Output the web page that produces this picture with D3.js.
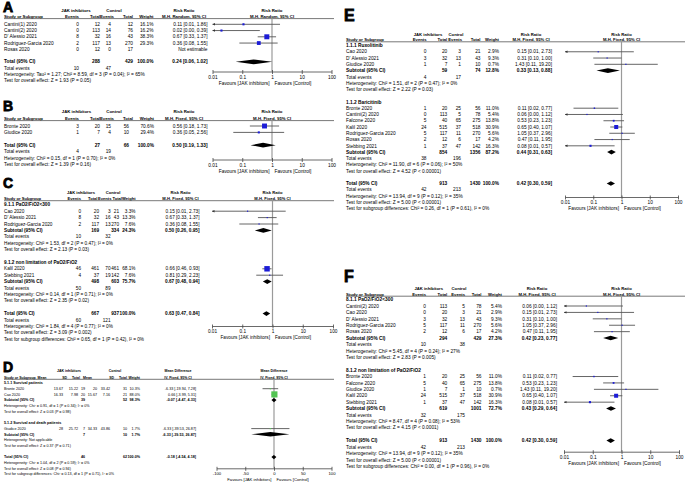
<!DOCTYPE html>
<html><head><meta charset="utf-8">
<script src="https://cdn.jsdelivr.net/npm/d3@7"></script>
<style>
body{margin:0;background:#fff}
svg{display:block}
text{font-family:"Liberation Sans",Arial,sans-serif}
</style>
</head><body>
<svg id="c" width="685" height="485"></svg>
<script>
// ================= DATA =================
// Risk-ratio study rows: [study, JAK events, JAK total, control events, control total, weight %, RR, low, high]
const studiesA = [
  ["Cantini(1) 2020", 0, 12, 4, 12, 16.1, 0.11, 0.01, 1.86],
  ["Cantini(2) 2020", 0, 113, 14, 76, 16.2, 0.02, 0.00, 0.39],
  ["D' Alessio 2021", 8, 32, 16, 43, 38.3, 0.67, 0.33, 1.37],
  ["Rodriguez-Garcia 2020", 2, 117, 13, 270, 29.3, 0.36, 0.08, 1.55],
  ["Rosas 2020", 0, 12, 0, 17, null, null, null, null]
];
const totalA = [288, 429, 100.0, 0.24, 0.06, 1.02];
const eventsA = [10, 47];
const notesA = ["Heterogeneity: Tau² = 1.27; Chi² = 8.59, df = 3 (P = 0.04); I² = 65%",
                "Test for overall effect: Z = 1.93 (P = 0.05)"];

const studiesB = [
  ["Bronte 2020", 3, 20, 15, 56, 70.6, 0.56, 0.18, 1.73],
  ["Giudice 2020", 1, 7, 4, 10, 29.4, 0.36, 0.05, 2.56]
];
const totalB = [27, 66, 100.0, 0.50, 0.19, 1.33];
const eventsB = [4, 19];
const notesB = ["Heterogeneity: Chi² = 0.15, df = 1 (P = 0.70); I² = 0%",
                "Test for overall effect: Z = 1.39 (P = 0.16)"];

const titlesC = ["9.1.1 PaO2/FiO2<300", "9.1.2 non limitation of PaO2/FiO2"];
const studiesC1 = [
  ["Cao 2020", 0, 20, 3, 21, 3.3, 0.15, 0.01, 2.73],
  ["D' Alessio 2021", 8, 32, 16, 43, 13.3, 0.67, 0.33, 1.37],
  ["Rodriguez-Garcia 2020", 2, 117, 13, 270, 7.6, 0.36, 0.08, 1.55]
];
const studiesC2 = [
  ["Kalil 2020", 46, 461, 70, 461, 68.1, 0.66, 0.46, 0.93],
  ["Stebbing 2021", 4, 37, 19, 142, 7.6, 0.81, 0.29, 2.23]
];
const subtotalsC = [[169, 334, 24.3, 0.50, 0.26, 0.95], [498, 603, 75.7, 0.67, 0.48, 0.94]];
const subEventsC = [[10, 32], [50, 89]];
const subNotesC = [
  ["Heterogeneity: Chi² = 1.53, df = 2 (P = 0.47); I² = 0%", "Test for overall effect: Z = 2.13 (P = 0.03)"],
  ["Heterogeneity: Chi² = 0.14, df = 1 (P = 0.71); I² = 0%", "Test for overall effect: Z = 2.35 (P = 0.02)"]
];
const totalC = [667, 937, 100.0, 0.63, 0.47, 0.84];
const eventsC = [60, 121];
const notesC = ["Heterogeneity: Chi² = 1.84, df = 4 (P = 0.77); I² = 0%",
                "Test for overall effect: Z = 3.09 (P = 0.002)",
                "Test for subgroup differences: Chi² = 0.65, df = 1 (P = 0.42), I² = 0%"];

// Mean-difference rows: [study, JAK mean, SD, total, control mean, SD, total, weight %, MD, low, high]
const titlesD = ["5.1.1 Survival patients", "5.1.2 Survival and death patients"];
const studiesD1 = [
  ["Bronte 2020", 13.67, 15.22, 19, 20, 33.42, 31, 10.3, -6.33, -19.94, 7.28],
  ["Cao 2020", 16.33, 7.98, 20, 15.67, 7.16, 21, 88.0, 0.66, -3.99, 5.31]
];
const studiesD2 = [
  ["Giudice 2020", 28, 25.72, 7, 34.33, 43.86, 10, 1.7, -6.33, -39.53, 26.87]
];
const subtotalsD = [[39, 52, 98.3, -0.07, -4.47, 4.33], [7, 10, 1.7, -6.33, -39.53, 26.87]];
const subNotesD = [
  ["Heterogeneity: Chi² = 0.91, df = 1 (P = 0.34); I² = 0%", "Test for overall effect: Z = 0.03 (P = 0.98)"],
  ["Heterogeneity: Not applicable", "Test for overall effect: Z = 0.37 (P = 0.71)"]
];
const totalD = [46, 62, 100.0, -0.18, -4.54, 4.18];
const notesD = ["Heterogeneity: Chi² = 1.04, df = 2 (P = 0.59); I² = 0%",
                "Test for overall effect: Z = 0.08 (P = 0.94)",
                "Test for subgroup differences: Chi² = 0.13, df = 1 (P = 0.71), I² = 0%"];

const titlesE = ["1.1.1 Ruxolitinib", "1.1.2 Baricitinib"];
const studiesE1 = [
  ["Cao 2020", 0, 20, 3, 21, 2.9, 0.15, 0.01, 2.73],
  ["D' Alessio 2021", 3, 32, 13, 43, 9.3, 0.31, 0.10, 1.00],
  ["Giudice 2020", 1, 7, 1, 10, 0.7, 1.43, 0.11, 19.20]
];
const studiesE2 = [
  ["Bronte 2020", 1, 20, 25, 56, 11.0, 0.11, 0.02, 0.77],
  ["Cantini(2) 2020", 0, 113, 5, 78, 5.4, 0.06, 0.00, 1.12],
  ["Falcone 2020", 5, 40, 65, 275, 13.8, 0.53, 0.23, 1.23],
  ["Kalil 2020", 24, 515, 37, 518, 30.9, 0.65, 0.40, 1.07],
  ["Rodriguez-Garcia 2020", 5, 117, 11, 270, 5.6, 1.05, 0.37, 2.96],
  ["Rosas 2020", 2, 12, 6, 17, 4.2, 0.47, 0.11, 1.95],
  ["Stebbing 2021", 1, 37, 47, 142, 16.3, 0.08, 0.01, 0.57]
];
const subtotalsE = [[59, 74, 12.8, 0.33, 0.13, 0.88], [854, 1356, 87.2, 0.44, 0.31, 0.63]];
const subEventsE = [[4, 17], [38, 196]];
const subNotesE = [
  ["Heterogeneity: Chi² = 1.51, df = 2 (P = 0.47); I² = 0%", "Test for overall effect: Z = 2.22 (P = 0.03)"],
  ["Heterogeneity: Chi² = 11.90, df = 6 (P = 0.06); I² = 50%", "Test for overall effect: Z = 4.52 (P < 0.00001)"]
];
const totalE = [913, 1430, 100.0, 0.42, 0.30, 0.59];
const eventsE = [42, 213];
const notesE = ["Heterogeneity: Chi² = 13.94, df = 9 (P = 0.12); I² = 35%",
                "Test for overall effect: Z = 5.00 (P < 0.00001)",
                "Test for subgroup differences: Chi² = 0.26, df = 1 (P = 0.61), I² = 0%"];

const titlesF = ["8.1.1 PaO2/FiO2<300", "8.1.2 non limitation of PaO2/FiO2"];
const studiesF1 = [
  ["Cantini(2) 2020", 0, 113, 5, 78, 5.4, 0.06, 0.00, 1.12],
  ["Cao 2020", 0, 20, 3, 21, 2.9, 0.15, 0.01, 2.73],
  ["D' Alessio 2021", 3, 32, 13, 43, 9.3, 0.31, 0.10, 1.00],
  ["Rodriguez-Garcia 2020", 5, 117, 11, 270, 5.6, 1.05, 0.37, 2.96],
  ["Rosas 2020", 2, 12, 6, 17, 4.2, 0.47, 0.11, 1.95]
];
const studiesF2 = [
  ["Bronte 2020", 1, 20, 25, 56, 11.0, 0.11, 0.02, 0.77],
  ["Falcone 2020", 5, 40, 65, 275, 13.8, 0.53, 0.23, 1.23],
  ["Giudice 2020", 1, 7, 1, 10, 0.7, 1.43, 0.11, 19.20],
  ["Kalil 2020", 24, 515, 37, 518, 30.9, 0.65, 0.40, 1.07],
  ["Stebbing 2021", 1, 37, 47, 142, 16.3, 0.08, 0.01, 0.57]
];
const subtotalsF = [[294, 429, 27.3, 0.42, 0.23, 0.77], [619, 1001, 72.7, 0.43, 0.29, 0.64]];
const subEventsF = [[10, 38], [32, 175]];
const subNotesF = [
  ["Heterogeneity: Chi² = 5.45, df = 4 (P = 0.24); I² = 27%", "Test for overall effect: Z = 2.83 (P = 0.005)"],
  ["Heterogeneity: Chi² = 8.47, df = 4 (P = 0.08); I² = 53%", "Test for overall effect: Z = 4.15 (P < 0.0001)"]
];
const totalF = [913, 1430, 100.0, 0.42, 0.30, 0.59];
const eventsF = [42, 213];
const notesF = ["Heterogeneity: Chi² = 13.94, df = 9 (P = 0.12); I² = 35%",
                "Test for overall effect: Z = 5.00 (P < 0.00001)",
                "Test for subgroup differences: Chi² = 0.00, df = 1 (P = 0.96), I² = 0%"];

const rrTicks = [0.01, 0.1, 1, 10, 100];
const mdTicks = [-100, -50, 0, 50, 100];
const rrHeaders = ["Events", "Total", "Events", "Total"];
const mdHeaders = ["Mean", "SD", "Total", "Mean", "SD", "Total"];

// ================= DRAWING =================
const svg = d3.select("#c");
const f2 = v => v.toFixed(2);
const ciText = (e, l, h) => `${f2(e)} [${f2(l)}, ${f2(h)}]`;
const wText = w => w.toFixed(1) + "%";
const SQ_BLUE = "#1c1cd6", SQ_GREEN = "#52c452";

function makeGroups(titles, studyLists, subs, subEvents, subNotes) {
  return titles.map((t, i) => ({title: t, studies: studyLists[i], sub: subs[i],
    events: subEvents ? subEvents[i] : null, notes: subNotes[i]}));
}

function drawPanel(cfg, spec) {
  const g = svg.append("g");
  const fs = cfg.fs;
  const T = (x, y, s, anchor, bold, size) => g.append("text")
    .attr("x", x).attr("y", y).attr("dy", "0.35em")
    .attr("text-anchor", anchor || "start").attr("font-size", size || fs)
    .attr("font-weight", bold ? "bold" : "normal").attr("fill", "#000").text(s);

  g.append("text").attr("x", cfg.labelX).attr("y", cfg.labelY)
    .attr("font-size", cfg.labelFs).attr("font-weight", "bold")
    .attr("stroke", "#000").attr("stroke-width", 0.8).text(cfg.label);

  const isMD = spec.type === "md";
  const dom = isMD ? [-100, 100] : [0.01, 100];
  const x = isMD ? d3.scaleLinear().domain(dom).range(cfg.plot)
                 : d3.scaleLog().domain(dom).range(cfg.plot);
  const nullV = isMD ? 0 : 1;
  const plotMid = (cfg.plot[0] + cfg.plot[1]) / 2;
  const numCols = isMD ? ["m1", "sd1", "n1", "m2", "sd2", "n2"] : ["ev1", "n1", "ev2", "n2"];
  const heads = isMD ? mdHeaders : rrHeaders;
  const measure = isMD ? "Mean Difference" : "Risk Ratio";
  const hc = Object.assign({}, cfg.cols, cfg.hcols || {});
  const hfs = cfg.hfs || fs;

  // headers
  T(cfg.grp1, cfg.h1, "JAK inhibitors", "middle", true, hfs);
  T(cfg.grp2, cfg.h1, "Control", "middle", true, hfs);
  T(cfg.ciHead, cfg.h1, measure, "middle", true, hfs);
  T(plotMid, cfg.h1, measure, "middle", true, hfs);
  T(cfg.study, cfg.h2, "Study or Subgroup", "start", true, hfs);
  numCols.forEach((c, j) => T(hc[c], cfg.h2, heads[j], "end", true, hfs));
  T(hc.w, cfg.h2, "Weight", "end", true, hfs);
  T(cfg.ciHead, cfg.h2, spec.method, "middle", true, hfs);
  T(plotMid, cfg.h2, spec.method, "middle", true, hfs);
  g.append("line").attr("x1", cfg.study).attr("x2", cfg.lineRight)
    .attr("y1", cfg.ul).attr("y2", cfg.ul).attr("stroke", "#555").attr("stroke-width", 0.8);

  // rows
  const rows = [];
  if (spec.groups) {
    spec.groups.forEach(gr => {
      rows.push({k: "title", t: gr.title});
      gr.studies.forEach(s => rows.push({k: "study", d: s}));
      rows.push({k: "sum", label: "Subtotal (95% CI)", d: gr.sub});
      if (gr.events) rows.push({k: "events", d: gr.events});
      gr.notes.forEach(n => rows.push({k: "note", t: n}));
      rows.push({k: "blank"});
    });
  } else {
    spec.studies.forEach(s => rows.push({k: "study", d: s}));
    rows.push({k: "blank"});
  }
  rows.push({k: "sum", label: "Total (95% CI)", d: spec.total});
  if (spec.events) rows.push({k: "events", d: spec.events});
  spec.notes.forEach(n => rows.push({k: "note", t: n}));

  // null line
  g.append("line").attr("x1", x(nullV)).attr("x2", x(nullV))
    .attr("y1", cfg.ul).attr("y2", cfg.axisY)
    .attr("stroke", "#9a9a9a").attr("stroke-width", 1.2);

  const cx = v => v <= dom[0] ? cfg.plot[0] : (v >= dom[1] ? cfg.plot[1] : x(v));

  rows.forEach((r, i) => {
    const y = cfg.rowStart + i * cfg.step;
    if (r.k === "title") T(cfg.study, y, r.t, "start", true);
    else if (r.k === "note") T(cfg.study, y, r.t);
    else if (r.k === "events") {
      T(cfg.study, y, "Total events");
      T(cfg.cols.ev1, y, String(r.d[0]), "end");
      T(cfg.cols.ev2, y, String(r.d[1]), "end");
    } else if (r.k === "study") {
      const d = r.d;
      T(cfg.study, y, d[0]);
      numCols.forEach((c, j) => T(cfg.cols[c], y, String(d[j + 1]), "end"));
      const [w, est, lo, hi] = d.slice(numCols.length + 1);
      if (est == null) { T(cfg.cols.ci, y, "Not estimable", "end"); return; }
      T(cfg.cols.w, y, wText(w), "end");
      T(cfg.cols.ci, y, ciText(est, lo, hi), "end");
      g.append("line").attr("x1", cx(lo)).attr("x2", cx(hi)).attr("y1", y).attr("y2", y)
        .attr("stroke", "#555").attr("stroke-width", 0.9);
      if (lo <= dom[0]) {
        const a = cfg.plot[0];
        g.append("path").attr("d", `M${a},${y}L${a + 2.5},${y - 1.2}L${a + 2.5},${y + 1.2}Z`).attr("fill", "#333");
      }
      if (hi >= dom[1]) {
        const a = cfg.plot[1];
        g.append("path").attr("d", `M${a},${y}L${a - 2.5},${y - 1.2}L${a - 2.5},${y + 1.2}Z`).attr("fill", "#333");
      }
      const s = Math.max(1.2, cfg.sq * w);
      g.append("rect").attr("x", x(est) - s / 2).attr("y", y - s / 2)
        .attr("width", s).attr("height", s).attr("fill", isMD ? SQ_GREEN : SQ_BLUE);
    } else if (r.k === "sum") {
      const [n1, n2, w, est, lo, hi] = r.d;
      T(cfg.study, y, r.label, "start", true);
      T(cfg.cols.n1, y, String(n1), "end", true);
      T(cfg.cols.n2, y, String(n2), "end", true);
      T(cfg.cols.w, y, wText(w), "end", true);
      T(cfg.cols.ci, y, ciText(est, lo, hi), "end", true);
      const h = cfg.dia;
      g.append("path")
        .attr("d", `M${cx(lo)},${y}L${x(est)},${y - h}L${cx(hi)},${y}L${x(est)},${y + h}Z`)
        .attr("fill", "#000");
    }
  });

  // axis
  const ax = g.append("g").attr("transform", `translate(0,${cfg.axisY})`)
    .call(d3.axisBottom(x).tickValues(isMD ? mdTicks : rrTicks)
      .tickFormat(d => String(d)).tickSize(2.5).tickSizeOuter(0).tickPadding(1.3));
  ax.attr("font-size", null).attr("font-family", null);
  ax.select(".domain").attr("stroke", "#444").attr("stroke-width", 0.8);
  ax.selectAll(".tick line").attr("stroke", "#444").attr("stroke-width", 0.8).attr("y1", -1.5);
  ax.selectAll(".tick text").attr("font-size", cfg.afs || fs).attr("fill", "#000");
  T(x(nullV) - 2.5, cfg.axisY + 11.5, "Favours [JAK inhibitors]", "end", false, cfg.afs || fs);
  T(x(nullV) + 2.5, cfg.axisY + 11.5, "Favours [Control]", "start", false, cfg.afs || fs);
}

// ================= PANELS =================
drawPanel({label: "A", labelX: 3, labelY: 12, labelFs: 14, fs: 4.8, hfs: 4.3,
  h1: 10.7, h2: 16.3, ul: 18.6, rowStart: 24.3, step: 6.25, axisY: 71.5,
  study: 4, cols: {ev1: 79, n1: 100, ev2: 111, n2: 133, w: 153.5, ci: 207.5},
  hcols: {ev2: 114},
  grp1: 76, grp2: 114, ciHead: 184, plot: [212.5, 331.5], lineRight: 334, sq: 0.13, dia: 2.4},
  {type: "rr", method: "M-H, Random, 95% CI", studies: studiesA, total: totalA, events: eventsA, notes: notesA});

drawPanel({label: "B", labelX: 3, labelY: 111, labelFs: 14, fs: 4.8, hfs: 4.3,
  h1: 111.7, h2: 118.5, ul: 120.6, rowStart: 126, step: 6.4, axisY: 159.5,
  study: 4, cols: {ev1: 79, n1: 100, ev2: 111, n2: 129, w: 154, ci: 207.5},
  hcols: {ev2: 114, n2: 133},
  grp1: 76.5, grp2: 114, ciHead: 184, plot: [212.5, 331.5], lineRight: 334, sq: 0.07, dia: 2.4},
  {type: "rr", method: "M-H, Fixed, 95% CI", studies: studiesB, total: totalB, events: eventsB, notes: notesB});

drawPanel({label: "C", labelX: 3, labelY: 188, labelFs: 14, fs: 4.7, hfs: 4.1,
  h1: 192.3, h2: 198.7, ul: 200.7, rowStart: 204.8, step: 6.4, axisY: 326,
  study: 4, cols: {ev1: 81, n1: 99, ev2: 110.5, n2: 119, w: 135.5, ci: 199.5},
  hcols: {n1: 97.5, ev2: 111.5, n2: 122},
  grp1: 81, grp2: 113, ciHead: 180.5, plot: [212, 333], lineRight: 334, sq: 0.08, dia: 2.3},
  {type: "rr", method: "M-H, Fixed, 95% CI",
   groups: makeGroups(titlesC, [studiesC1, studiesC2], subtotalsC, subEventsC, subNotesC),
   total: totalC, events: eventsC, notes: notesC});

drawPanel({label: "D", labelX: 3, labelY: 372, labelFs: 14, fs: 3.7, hfs: 3.5, afs: 4.2,
  h1: 370.7, h2: 377.3, ul: 379.3, rowStart: 383, step: 5.7, axisY: 468.3,
  study: 4, cols: {m1: 63, sd1: 78, n1: 85, m2: 97, sd2: 110, n2: 127, w: 140, ci: 196},
  hcols: {m1: 46.5, sd1: 67, n1: 80, m2: 92, sd2: 114, n2: 127, w: 140},
  grp1: 69, grp2: 115, ciHead: 178, plot: [216.5, 331.5], lineRight: 334, sq: 0.07, dia: 2.2},
  {type: "md", method: "IV, Fixed, 95% CI",
   groups: makeGroups(titlesD, [studiesD1, studiesD2], subtotalsD, null, subNotesD),
   total: totalD, events: null, notes: notesD});

drawPanel({label: "E", labelX: 344, labelY: 21, labelFs: 16, fs: 4.8, hfs: 4.2,
  h1: 34.3, h2: 40, ul: 41.8, rowStart: 45.5, step: 6.27, axisY: 197,
  study: 346, cols: {ev1: 426.5, n1: 447.3, ev2: 461, n2: 480.5, w: 499, ci: 552},
  hcols: {ev2: 462},
  grp1: 428, grp2: 456, ciHead: 531, plot: [565, 678], lineRight: 685, sq: 0.13, dia: 2.3},
  {type: "rr", method: "M-H, Fixed, 95% CI",
   groups: makeGroups(titlesE, [studiesE1, studiesE2], subtotalsE, subEventsE, subNotesE),
   total: totalE, events: eventsE, notes: notesE});

drawPanel({label: "F", labelX: 344, labelY: 282, labelFs: 16, fs: 4.8, hfs: 4.2,
  h1: 289, h2: 294.3, ul: 296.2, rowStart: 299.6, step: 6.41, axisY: 451.7,
  study: 346, cols: {ev1: 426, n1: 447.3, ev2: 465, n2: 481.5, w: 502, ci: 557},
  grp1: 428.7, grp2: 459, ciHead: 537, plot: [564, 679], lineRight: 685, sq: 0.13, dia: 2.3},
  {type: "rr", method: "M-H, Fixed, 95% CI",
   groups: makeGroups(titlesF, [studiesF1, studiesF2], subtotalsF, subEventsF, subNotesF),
   total: totalF, events: eventsF, notes: notesF});
</script>
</body></html>
